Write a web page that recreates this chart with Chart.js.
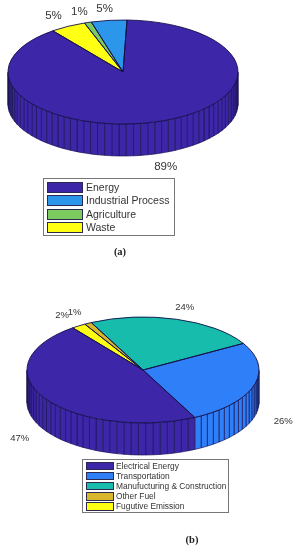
<!DOCTYPE html>
<html>
<head>
<meta charset="utf-8">
<title>Emissions by sector</title>
<script src="https://cdn.jsdelivr.net/npm/chart.js@4"></script>
<style>
  html, body { margin: 0; padding: 0; background: #fff; }
  #page { position: relative; width: 300px; height: 550px; overflow: hidden; font-family: "Liberation Sans", sans-serif; color: #333; }
  canvas { position: absolute; left: 0; top: 0; }
  .legend { position: absolute; box-sizing: border-box; border: 1px solid #777; background: #fff; }
  .row { position: absolute; left: 3px; right: 0; white-space: nowrap; }
  .swatch { position: absolute; left: 0; top: 0; box-sizing: border-box; border: 1px solid #2a2a50; }
  .row span { position: absolute; top: 0; }
  .cap { position: absolute; font: bold 10.5px "Liberation Serif", serif; color: #222; transform: translateX(-50%); }
</style>
</head>
<body>
<div id="page">
  <canvas id="pieA" width="300" height="550"></canvas>
  <canvas id="pieB" width="300" height="550"></canvas>
  <div class="cap" style="left:120px;top:246px">(a)</div>
  <div class="cap" style="left:192px;top:534px">(b)</div>
</div>
<script>
// values, legend order
const categoriesA = ["Energy", "Industrial Process", "Agriculture", "Waste"];
const valuesA = [89, 5, 1, 5];
const categoriesB = ["Electrical Energy", "Transportation", "Manufucturing & Construction", "Other Fuel", "Fugutive Emission"];
const valuesB = [47, 26, 24, 1, 2];

const paletteA = ["#3e26a8", "#2c97ea", "#7ccb5f", "#ffff14"];
const paletteB = ["#3e26a8", "#2e7ff8", "#17bcac", "#d8b82a", "#ffff14"];

const FACET = 3.6 * Math.PI / 180;

function shade(hex, f) {
  const n = parseInt(hex.slice(1), 16);
  return `rgb(${Math.round((n >> 16) * f)},${Math.round(((n >> 8) & 255) * f)},${Math.round((n & 255) * f)})`;
}

// squashes the pie into an ellipse and adds the wall and the labels
const pie3d = {
  id: 'pie3d',
  beforeDatasetsDraw(chart, args, o) {
    const { ctx } = chart;
    const arcs = chart.getDatasetMeta(0).data;
    const r = arcs[0].outerRadius, x = arcs[0].x, y = arcs[0].y;
    const ry = r * o.squash;
    ctx.save();
    ctx.lineWidth = 0.7;
    arcs.forEach((arc, i) => {
      const color = chart.data.datasets[0].backgroundColor[i];
      for (let n = -1; n < 3; n++) {
        const lo = Math.max(arc.startAngle, n * 2 * Math.PI);
        const hi = Math.min(arc.endAngle, n * 2 * Math.PI + Math.PI);
        if (lo >= hi) continue;
        let a0 = lo;
        while (a0 < hi - 1e-6) {
          const steps = Math.floor((a0 - arc.startAngle) / FACET + 1e-6) + 1;
          const a1 = Math.min(hi, arc.startAngle + steps * FACET);
          const s = Math.sin((a0 + a1) / 2);
          ctx.beginPath();
          ctx.ellipse(x, o.cy, r, ry, 0, a0, a1);
          ctx.ellipse(x, o.cy + o.depth, r, ry, 0, a1, a0, true);
          ctx.closePath();
          ctx.fillStyle = shade(color, 0.7 + 0.3 * Math.min(1, s * 2.4));
          ctx.fill();
          ctx.strokeStyle = '#1a1458';
          ctx.stroke();
          a0 = a1;
        }
      }
    });
    ctx.restore();
    ctx.save();
    ctx.translate(x, o.cy);
    ctx.scale(1, o.squash);
    ctx.translate(-x, -y);
  },
  afterDatasetsDraw(chart, args, o) {
    const { ctx } = chart;
    ctx.restore();
    const arcs = chart.getDatasetMeta(0).data;
    const values = chart.data.datasets[0].data;
    const r = arcs[0].outerRadius, x = arcs[0].x;
    const ry = r * o.squash;
    ctx.save();
    ctx.strokeStyle = '#14104a';
    ctx.lineWidth = 0.9;
    arcs.forEach(arc => {
      ctx.beginPath();
      ctx.moveTo(x, o.cy);
      ctx.ellipse(x, o.cy, r, ry, 0, arc.startAngle, arc.endAngle);
      ctx.closePath();
      ctx.stroke();
    });
    ctx.font = o.font;
    ctx.fillStyle = '#333';
    ctx.textAlign = 'center';
    ctx.textBaseline = 'middle';
    arcs.forEach((arc, i) => {
      const mid = (arc.startAngle + arc.endAngle) / 2;
      const lower = Math.sin(mid) > 0 ? o.depth : 0;
      const tx = x + 1.1 * r * Math.cos(mid) + o.nudge[i][0];
      const ty = o.cy + 1.1 * ry * Math.sin(mid) + lower + o.nudge[i][1];
      ctx.fillText(values[i] + '%', tx, ty);
    });
    ctx.restore();
  }
};

function drawPie(id, values, palette, opts) {
  // the slices run counter-clockwise in the legend order, Chart.js goes clockwise
  const data = [...values].reverse();
  const colors = [...palette].reverse();
  return new Chart(document.getElementById(id), {
    type: 'pie',
    data: { labels: [...Array(data.length).keys()], datasets: [{ data, backgroundColor: colors, borderWidth: 0 }] },
    options: {
      responsive: false,
      animation: false,
      rotation: opts.rotation,
      layout: { padding: opts.padding },
      plugins: { legend: { display: false }, tooltip: { enabled: false }, pie3d: opts.pie3d }
    },
    plugins: [pie3d]
  });
}

function drawLegend(names, palette, s) {
  const box = document.createElement('div');
  box.className = 'legend';
  box.style.cssText = `left:${s.left}px;top:${s.top}px;width:${s.width}px;height:${s.height}px`;
  names.forEach((name, i) => {
    const row = document.createElement('div');
    row.className = 'row';
    row.style.cssText = `top:${s.first + i * s.step}px;height:${s.swatchH}px;font-size:${s.font}px;line-height:${s.swatchH}px`;
    const sw = document.createElement('div');
    sw.className = 'swatch';
    sw.style.cssText = `width:${s.swatchW}px;height:${s.swatchH}px;background:${palette[i]}`;
    const label = document.createElement('span');
    label.style.left = (s.swatchW + s.gap) + 'px';
    label.textContent = name;
    row.append(sw, label);
    box.append(row);
  });
  document.getElementById('page').append(box);
}

drawPie('pieA', valuesA, paletteA, {
  rotation: -37.6,
  padding: { left: 8, right: 62, top: 0, bottom: 320 },
  pie3d: { cy: 72, squash: 52 / 115, depth: 32, font: '11.5px "Liberation Sans", sans-serif',
    nudge: [[-9, -6], [-5, -6], [-3, -6], [4, 8.5]] }
});
drawPie('pieB', valuesB, paletteB, {
  rotation: -37.3,
  padding: { left: 27, right: 41, top: 0, bottom: 318 },
  pie3d: { cy: 370, squash: 53 / 116, depth: 32, font: '9.5px "Liberation Sans", sans-serif',
    nudge: [[-10, -6], [-8, -6.4], [5, -7], [18, 3], [-15, 6]] }
});

drawLegend(categoriesA, paletteA, { left: 43, top: 178, width: 132, height: 58, first: 3, step: 13.4, swatchW: 36, swatchH: 11, gap: 3, font: 10.5 });
drawLegend(categoriesB, paletteB, { left: 82, top: 459, width: 147, height: 54, first: 1.5, step: 10.2, swatchW: 28, swatchH: 8.5, gap: 2, font: 8.4 });
</script>
</body>
</html>
